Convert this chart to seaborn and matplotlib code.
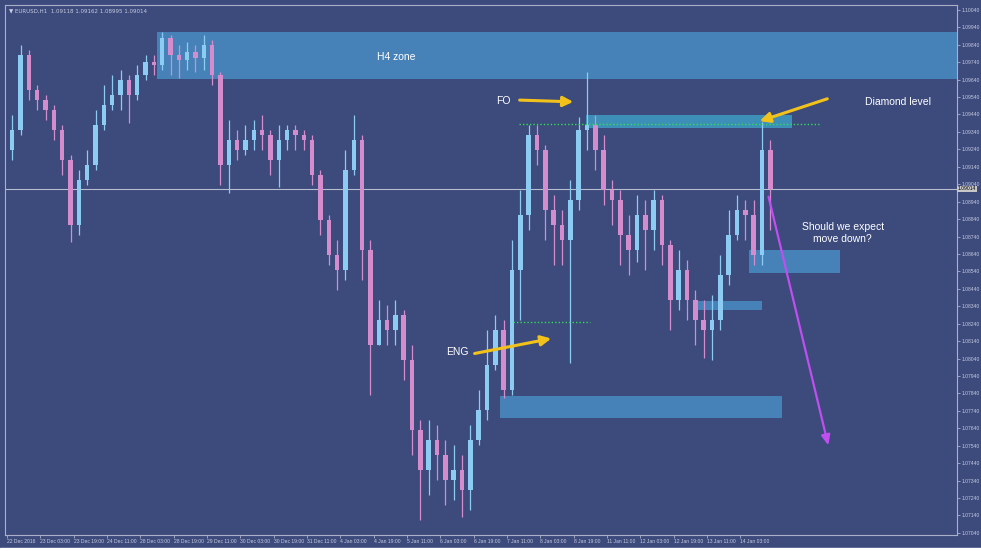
import numpy as np
import pandas as pd
import matplotlib
matplotlib.use('Agg')
import matplotlib.pyplot as plt
import seaborn as sns

# 4-hour candles
first_open = 1.09236
closes = [1.09351, 1.09782, 1.09581, 1.09523, 1.09466, 1.09351, 1.09179, 1.08806, 1.09064, 1.09150,
          1.09380, 1.09495, 1.09552, 1.09638, 1.09552, 1.09667, 1.09741, 1.09724, 1.09879, 1.09782,
          1.09753, 1.09799, 1.09764, 1.09839, 1.09667, 1.09150, 1.09294, 1.09236, 1.09294, 1.09351,
          1.09323, 1.09179, 1.09294, 1.09351, 1.09323, 1.09294, 1.09093, 1.08835, 1.08634, 1.08548,
          1.09122, 1.09294, 1.08663, 1.08118, 1.08261, 1.08204, 1.08290, 1.08032, 1.07630, 1.07401,
          1.07573, 1.07487, 1.07343, 1.07401, 1.07286, 1.07573, 1.07745, 1.08003, 1.08204, 1.07860,
          1.08548, 1.08864, 1.09323, 1.09236, 1.08892, 1.08806, 1.08720, 1.08950, 1.09351, 1.09380,
          1.09236, 1.09007, 1.08950, 1.08749, 1.08663, 1.08864, 1.08778, 1.08950, 1.08691, 1.08376,
          1.08548, 1.08376, 1.08261, 1.08204, 1.08261, 1.08519, 1.08749, 1.08892, 1.08864, 1.08634,
          1.09236, 1.09014]
highs = [1.09437, 1.09839, 1.09810, 1.09609, 1.09552, 1.09495, 1.09380, 1.09208, 1.09122, 1.09236,
         1.09466, 1.09609, 1.09667, 1.09695, 1.09667, 1.09724, 1.09782, 1.09782, 1.09913, 1.09896,
         1.09839, 1.09856, 1.09839, 1.09896, 1.09868, 1.09684, 1.09409, 1.09351, 1.09380, 1.09409,
         1.09437, 1.09351, 1.09380, 1.09380, 1.09380, 1.09351, 1.09323, 1.09122, 1.08864, 1.08720,
         1.09236, 1.09437, 1.09323, 1.08720, 1.08376, 1.08347, 1.08376, 1.08319, 1.08118, 1.07688,
         1.07688, 1.07659, 1.07573, 1.07544, 1.07487, 1.07659, 1.07860, 1.08204, 1.08290, 1.08261,
         1.08720, 1.09007, 1.09380, 1.09380, 1.09265, 1.08978, 1.08892, 1.09064, 1.09426, 1.09684,
         1.09437, 1.09323, 1.09064, 1.09007, 1.08864, 1.08978, 1.08950, 1.09007, 1.08978, 1.08720,
         1.08663, 1.08605, 1.08433, 1.08376, 1.08405, 1.08634, 1.08892, 1.08978, 1.08950, 1.08950,
         1.09397, 1.09294]
lows = [1.09179, 1.09323, 1.09523, 1.09466, 1.09409, 1.09294, 1.09093, 1.08709, 1.08749, 1.09036,
        1.09122, 1.09351, 1.09466, 1.09466, 1.09391, 1.09523, 1.09638, 1.09667, 1.09695, 1.09667,
        1.09650, 1.09695, 1.09684, 1.09695, 1.09609, 1.09036, 1.08990, 1.09179, 1.09208, 1.09236,
        1.09236, 1.09093, 1.09024, 1.09236, 1.09236, 1.09236, 1.09036, 1.08749, 1.08577, 1.08433,
        1.08491, 1.09093, 1.08491, 1.07831, 1.08118, 1.08118, 1.08118, 1.07917, 1.07487, 1.07114,
        1.07257, 1.07343, 1.07200, 1.07229, 1.07131, 1.07171, 1.07544, 1.07688, 1.07974, 1.07814,
        1.07831, 1.08261, 1.08778, 1.09150, 1.08720, 1.08577, 1.08577, 1.08015, 1.08892, 1.09236,
        1.09122, 1.08921, 1.08806, 1.08577, 1.08519, 1.08594, 1.08548, 1.08663, 1.08577, 1.08204,
        1.08319, 1.08261, 1.08118, 1.08043, 1.08032, 1.08204, 1.08462, 1.08720, 1.08720, 1.08577,
        1.08577, 1.08778]

x_labels = ['22 Dec 2016', '23 Dec 03:00', '23 Dec 19:00', '24 Dec 11:00', '28 Dec 03:00',
            '28 Dec 19:00', '29 Dec 11:00', '30 Dec 03:00', '30 Dec 19:00', '31 Dec 11:00',
            '4 Jan 03:00', '4 Jan 19:00', '5 Jan 11:00', '6 Jan 03:00', '6 Jan 19:00',
            '7 Jan 11:00', '8 Jan 03:00', '8 Jan 19:00', '11 Jan 11:00', '12 Jan 03:00',
            '12 Jan 19:00', '13 Jan 11:00', '14 Jan 03:00']
y_ticks = [1.10040, 1.09940, 1.09840, 1.09740, 1.09640, 1.09540, 1.09440, 1.09340, 1.09240,
           1.09140, 1.09040, 1.08940, 1.08840, 1.08740, 1.08640, 1.08540, 1.08440, 1.08340,
           1.08240, 1.08140, 1.08040, 1.07940, 1.07840, 1.07740, 1.07640, 1.07540, 1.07440,
           1.07340, 1.07240, 1.07140, 1.07040]

# zones: (start bar, end bar, low price, high price, colour)  -- bar units are H1 bars
zones = [(72, 470, 1.09644, 1.09913, '#4682b8'),
         (278, 377, 1.09363, 1.09437, '#3d8fb8'),
         (356, 400, 1.08531, 1.08663, '#4682b8'),
         (331, 362.5, 1.08319, 1.08370, '#4682b8'),
         (236.7, 372, 1.07699, 1.07825, '#4682b8')]
dotted_levels = [(246, 390, 1.09386), (243, 280, 1.08250)]

df = pd.DataFrame({'close': closes, 'high': highs, 'low': lows})
df['open'] = [first_open] + closes[:-1]
df['bar'] = np.arange(len(df)) * 4 + 2.5
df['up'] = df['close'] >= df['open']

bg = '#3c4a7c'
txt = '#c8cce0'
sns.set_theme(style='dark', rc={'axes.facecolor': bg, 'figure.facecolor': bg,
                                'axes.edgecolor': '#aab0c8', 'grid.color': bg})
plt.rcParams['font.family'] = ['Liberation Sans', 'DejaVu Sans']

fig = plt.figure(figsize=(9.81, 5.55), dpi=100)
ax = fig.add_axes([5 / 981, 20 / 555, 952 / 981, 530 / 555])
fig.patches.append(plt.Rectangle((0, 0), 1, 7 / 555, transform=fig.transFigure,
                                 color='white', zorder=0))

for x0, x1, lo, hi, c in zones:
    ax.add_patch(plt.Rectangle((x0, lo), x1 - x0, hi - lo, color=c, lw=0, zorder=1))

# candles
up_c, dn_c = '#8ccbf2', '#d48ccd'
colors = np.where(df['up'], up_c, dn_c)
ax.vlines(df['bar'], df['low'], df['high'], colors=colors, lw=0.9, zorder=2)
body_lo = df[['open', 'close']].min(axis=1)
body_h = (df['close'] - df['open']).abs().clip(lower=0.00003)
ax.bar(df['bar'], body_h, bottom=body_lo, width=2.2, color=colors, lw=0, zorder=3)

for x0, x1, lvl in dotted_levels:
    ax.plot([x0, x1], [lvl, lvl], color='#33dd55', lw=1.0, ls=(0, (1, 1.5)), zorder=4)

# current price line
ax.axhline(closes[-1], color='#b8bcd0', lw=0.8, zorder=1.5)
ax.text(1.001, closes[-1], f'{closes[-1]:.5f}', transform=ax.get_yaxis_transform(),
        fontsize=3.6, color='black', va='center', ha='left',
        bbox=dict(boxstyle='square,pad=0.15', fc='#c8c8c8', ec='none'))

# annotations
yel = dict(arrowstyle='-|>,head_length=0.5,head_width=0.25', color='#f2c21b', lw=2.2)
ax.annotate('', xy=(273.2, 1.09512), xytext=(244.8, 1.09523), arrowprops=yel, zorder=6)
ax.annotate('', xy=(262.6, 1.08158), xytext=(223.2, 1.08066), arrowprops=yel, zorder=6)
ax.annotate('', xy=(360.1, 1.09397), xytext=(395.1, 1.09535), arrowprops=yel, zorder=6)
ax.annotate('', xy=(394.6, 1.07527), xytext=(365.3, 1.08984),
            arrowprops=dict(arrowstyle='-|>,head_length=0.5,head_width=0.22', color='#c04ef0', lw=1.6),
            zorder=6)

fs = 7.5
ax.text(177.7, 1.09770, 'H4 zone', color='white', fontsize=fs, va='center', ha='left', zorder=7)
ax.text(234.8, 1.09517, 'FO', color='white', fontsize=fs, va='center', ha='left', zorder=7)
ax.text(411.9, 1.09512, 'Diamond level', color='white', fontsize=fs, va='center', ha='left', zorder=7)
ax.text(401.3, 1.08760, 'Should we expect\nmove down?', color='white', fontsize=fs,
        va='center', ha='center', linespacing=1.3, zorder=7)
ax.text(210.8, 1.08078, 'ENG', color='white', fontsize=fs, va='center', ha='left', zorder=7)

ax.text(0.004, 0.993, '\u25bc EURUSD,H1  1.09118 1.09162 1.08995 1.09014', transform=ax.transAxes,
        fontsize=4.0, color=txt, va='top', ha='left', family=['DejaVu Sans'])

ax.set_xlim(-0.96, 456.1)
ax.set_ylim(1.07028, 1.10068)
ax.set_xticks(np.arange(len(x_labels)) * 16)
ax.set_xticklabels(x_labels, ha='left', fontsize=3.6, color=txt)
ax.set_yticks(y_ticks)
ax.set_yticklabels([f'{v:.5f}' for v in y_ticks], fontsize=3.6, color=txt)
ax.yaxis.tick_right()
ax.tick_params(axis='both', length=2, width=0.6, color='#aab0c8', pad=1, bottom=True, right=True)
ax.grid(False)
for s in ax.spines.values():
    s.set_linewidth(0.8)

fig.savefig('out.png', dpi=100, facecolor=bg)
